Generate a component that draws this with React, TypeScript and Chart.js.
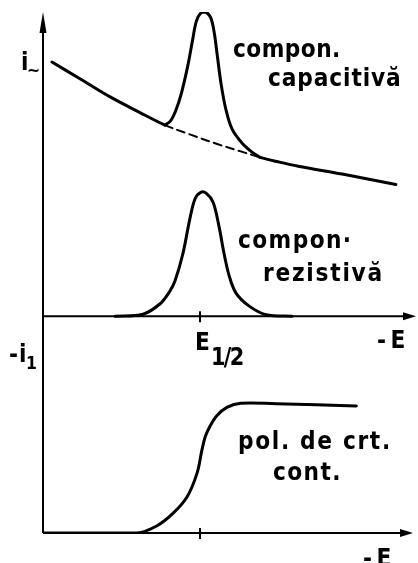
import { useEffect, useRef } from 'react';
import { Chart, registerables } from 'chart.js';

Chart.register(...registerables);

const FONT = '"DejaVu Sans", "Liberation Sans", sans-serif';

// Potential axis (−E, arbitrary units) and the half-wave potential tick
const E_HALF = 42.1;
const AXIS_END_UPPER = 100;
const AXIS_END_LOWER = 99.2;
// Upper (AC) panel sits above the DC panel on a shared vertical scale
const UPPER_BASE = 41.6;

// Capacitive background current (solid outside the wave, dashed under it)
const capBaseE = [2.4, 9.9, 18.0, 26.0, 32.7, 39.4, 46.1, 52.8, 58.2, 62.7, 68.4, 80.2, 94.6];
const capBaseI = [48.8, 45.6, 42.1, 39.1, 36.7, 34.9, 33.2, 31.7, 30.5, 29.7, 28.8, 27.3, 25.3];

// Capacitive component: tensammetric peak over the background
const capPeakE = [32.7, 34.2, 35.6, 37.1, 38.8, 40.1, 41.1, 42.3, 43.6, 44.9, 45.8, 46.7, 47.7, 49.0, 50.7, 53.4, 56.2, 58.2];
const capPeakI = [36.7, 37.5, 39.5, 42.8, 48.0, 53.0, 56.6, 58.2, 58.4, 57.4, 54.9, 50.2, 44.8, 39.8, 35.9, 33.2, 31.4, 30.5];

// Resistive (faradaic) component
const resE = [19.3, 26.8, 31.4, 34.0, 35.4, 37.5, 39.4, 40.8, 42.3, 43.8, 45.6, 47.2, 48.5, 49.9, 51.7, 55.2, 59.8, 66.8];
const resI = [0, 0.4, 2.4, 4.8, 6.8, 12.0, 18.8, 22.6, 23.8, 23.6, 21.9, 17.2, 12.2, 7.8, 4.5, 2.0, 0.3, 0];

// DC polarographic wave
const dcE = [0, 25.2, 30.6, 34.9, 38.6, 41.3, 42.6, 43.5, 44.7, 46.6, 49.3, 53.0, 62.5, 84.0];
const dcI = [0, 0, 1.4, 3.8, 6.9, 11.5, 15.9, 18.5, 20.4, 22.5, 24.1, 24.9, 24.8, 24.4];

const DASH_FROM = capPeakE[0];
const DASH_TO = capPeakE[capPeakE.length - 1];

const toPoints = (xs: number[], ys: number[], offset = 0) =>
  xs.map((x, i) => ({ x, y: ys[i] + offset }));

const inDash = (ctx: any) =>
  ctx.p0.parsed.x >= DASH_FROM - 0.01 && ctx.p1.parsed.x <= DASH_TO + 0.01;

function drawText(
  ctx: CanvasRenderingContext2D,
  s: string,
  x: number,
  y: number,
  size = 25,
  spacing = 1
) {
  ctx.save();
  ctx.font = `bold ${size}px ${FONT}`;
  (ctx as any).letterSpacing = `${spacing}px`;
  ctx.textBaseline = 'alphabetic';
  ctx.textAlign = 'left';
  ctx.fillStyle = '#000';
  ctx.translate(x, y);
  ctx.scale(0.87, 1);
  ctx.fillText(s, 0, 0);
  ctx.restore();
}

const axesPlugin = {
  id: 'handAxes',
  beforeDatasetsDraw(chart: any) {
    const { ctx, scales } = chart;
    const xs = scales.x;
    const ys = scales.y;
    const px = (v: number) => xs.getPixelForValue(v);
    const py = (v: number) => ys.getPixelForValue(v);
    ctx.save();
    ctx.strokeStyle = '#000';
    ctx.fillStyle = '#000';
    ctx.lineWidth = 2;
    ctx.lineCap = 'butt';

    // vertical current axis with arrow
    const x0 = px(0);
    ctx.beginPath();
    ctx.moveTo(x0, py(0));
    ctx.lineTo(x0, py(100) + 10);
    ctx.stroke();
    ctx.beginPath();
    ctx.moveTo(x0, py(100));
    ctx.lineTo(x0 - 3.5, py(100) + 21);
    ctx.lineTo(x0 + 3.5, py(100) + 21);
    ctx.closePath();
    ctx.fill();

    const hAxis = (yv: number, end: number) => {
      const y = py(yv);
      const xe = px(end);
      ctx.beginPath();
      ctx.moveTo(x0, y);
      ctx.lineTo(xe - 6, y);
      ctx.stroke();
      ctx.beginPath();
      ctx.moveTo(xe, y);
      ctx.lineTo(xe - 13, y - 4);
      ctx.lineTo(xe - 13, y + 4);
      ctx.closePath();
      ctx.fill();
      // tick at the half-wave potential
      const xt = px(E_HALF);
      ctx.beginPath();
      ctx.moveTo(xt, y - 5);
      ctx.lineTo(xt, y + 6);
      ctx.stroke();
    };
    hAxis(UPPER_BASE, AXIS_END_UPPER);
    hAxis(0, AXIS_END_LOWER);
    ctx.restore();
  },
  afterDraw(chart: any) {
    const ctx: CanvasRenderingContext2D = chart.ctx;
    // axis symbols
    drawText(ctx, 'i', 21, 70, 25, 0);
    drawText(ctx, '~', 27, 76, 18, 0);
    drawText(ctx, '-i', 9, 362, 25, 1);
    drawText(ctx, '1', 26, 369, 18, 0);
    drawText(ctx, 'E', 195, 350, 25, 0);
    drawText(ctx, '1/2', 211, 365, 24, -2);
    drawText(ctx, '-E', 377, 348, 25, 5);
    drawText(ctx, '-E', 363, 566, 25, 5);

    // curve annotations
    drawText(ctx, 'compon.', 233, 57, 25, 0.5);
    drawText(ctx, 'capacitivă', 268, 86, 25, 1);
    drawText(ctx, 'compon·', 238, 248, 25, 1.6);
    drawText(ctx, 'rezistivă', 263, 281, 25, 2);
    drawText(ctx, 'pol. de crt.', 238, 449, 25, 1.9);
    drawText(ctx, 'cont.', 273, 480, 25, 1.6);
  },
};

const lineStyle = {
  borderColor: '#000',
  borderWidth: 3,
  pointRadius: 0,
  fill: false,
  tension: 0.35,
  borderCapStyle: 'round' as const,
  borderJoinStyle: 'round' as const,
};

export default function App() {
  const canvasRef = useRef<HTMLCanvasElement | null>(null);

  useEffect(() => {
    const canvas = canvasRef.current;
    if (!canvas) return;
    const chart = new Chart(canvas, {
      type: 'line',
      data: {
        datasets: [
          {
            label: 'fond capacitiv',
            data: toPoints(capBaseE, capBaseI, UPPER_BASE),
            ...lineStyle,
            segment: {
              borderDash: (c: any) => (inDash(c) ? [8, 5] : undefined),
              borderWidth: (c: any) => (inDash(c) ? 2 : undefined),
            },
          } as any,
          {
            label: 'compon. capacitivă',
            data: toPoints(capPeakE, capPeakI, UPPER_BASE),
            ...lineStyle,
          },
          {
            label: 'compon. rezistivă',
            data: toPoints(resE, resI, UPPER_BASE),
            ...lineStyle,
          },
          {
            label: 'pol. de crt. cont.',
            data: toPoints(dcE, dcI),
            ...lineStyle,
          },
        ],
      },
      options: {
        responsive: false,
        devicePixelRatio: 1,
        animation: false,
        events: [],
        layout: { padding: { left: 43, top: 12, right: 2, bottom: 30 } },
        plugins: {
          legend: { display: false },
          tooltip: { enabled: false },
        },
        scales: {
          x: { type: 'linear', min: 0, max: 100, display: false },
          y: { type: 'linear', min: 0, max: 100, display: false },
        },
      },
      plugins: [axesPlugin],
    });
    return () => chart.destroy();
  }, []);

  return (
    <div
      style={{
        position: 'fixed',
        left: 0,
        top: 0,
        width: 418,
        height: 563,
        background: '#fff',
      }}
    >
      <canvas ref={canvasRef} width={418} height={563} style={{ display: 'block' }} />
    </div>
  );
}
